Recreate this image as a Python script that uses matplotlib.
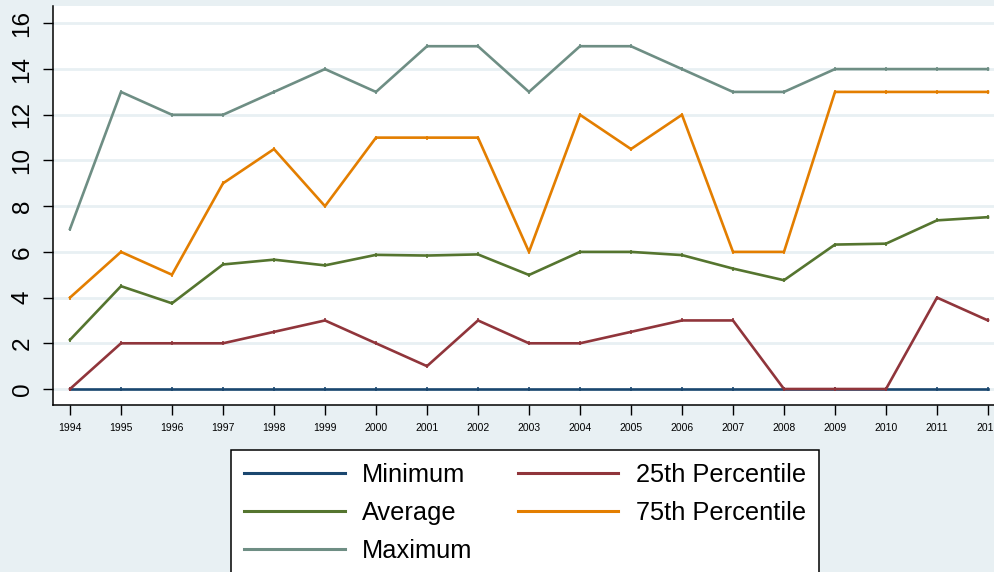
import matplotlib.pyplot as plt
from matplotlib.lines import Line2D

plt.rcParams['font.family'] = ['Liberation Sans', 'DejaVu Sans']

years = [1994, 1995, 1996, 1997, 1998, 1999, 2000, 2001, 2002, 2003,
         2004, 2005, 2006, 2007, 2008, 2009, 2010, 2011, 2012]
minimum = [0, 0, 0, 0, 0, 0, 0, 0, 0, 0, 0, 0, 0, 0, 0, 0, 0, 0, 0]
p25 = [0, 2, 2, 2, 2.5, 3, 2, 1, 3, 2, 2, 2.5, 3, 3, 0, 0, 0, 4, 3]
average = [2.15, 4.5, 3.75, 5.45, 5.66, 5.41, 5.87, 5.84, 5.89, 4.99,
           6.0, 6.0, 5.86, 5.27, 4.76, 6.32, 6.36, 7.38, 7.52]
p75 = [4, 6, 5, 9, 10.5, 8, 11, 11, 11, 6, 12, 10.5, 12, 6, 6, 13, 13, 13, 13]
maximum = [7, 13, 12, 12, 13, 14, 13, 15, 15, 13, 15, 15, 14, 13, 13, 14, 14, 14, 14]

bg = '#e8f0f3'
series = [
    ('Minimum', minimum, '#1a476f'),
    ('25th Percentile', p25, '#90353b'),
    ('Average', average, '#55752f'),
    ('75th Percentile', p75, '#e37e00'),
    ('Maximum', maximum, '#6e8e84'),
]

fig = plt.figure(figsize=(9.94, 5.72), dpi=100, facecolor=bg)
ax = fig.add_axes([53 / 994, 1 - 405 / 572, 1 - 53 / 994, 399 / 572])
ax.set_facecolor('white')

handles = {}
for name, vals, col in series:
    ax.plot(years, vals, color=col, lw=1.9, marker='|', ms=3, mew=1.2)
    handles[name] = Line2D([], [], color=col, lw=2.2)

ax.set_xlim(1993.667, 2012.118)
ax.set_ylim(-0.70, 16.76)
ax.set_yticks([0, 2, 4, 6, 8, 10, 12, 14, 16])
ax.set_xticks(years)
ax.grid(axis='y', color=bg, lw=2)
ax.set_axisbelow(True)

for s in ['top', 'right']:
    ax.spines[s].set_visible(False)
for s in ['left', 'bottom']:
    ax.spines[s].set_color('black')
    ax.spines[s].set_linewidth(1.1)

ax.tick_params(axis='y', labelsize=17.5, length=7, width=1, pad=7, labelrotation=90)
for lab in ax.get_yticklabels():
    lab.set_va('center')
ax.tick_params(axis='x', labelsize=7.5, length=7, width=1, pad=6)

order = ['Minimum', 'Average', 'Maximum', '25th Percentile', '75th Percentile']
leg = fig.legend([handles[k] for k in order], order, ncol=2,
                 loc='upper left', bbox_to_anchor=(231 / 994, 1 - 450 / 572),
                 fontsize=18.3, frameon=True, fancybox=False, handlelength=3.95,
                 handletextpad=0.68, columnspacing=1.8, labelspacing=0.55,
                 borderpad=0.52, borderaxespad=0)
leg.get_frame().set_edgecolor('black')
leg.get_frame().set_linewidth(1.1)
leg.get_frame().set_alpha(1)

fig.savefig('out.png', dpi=100, facecolor=bg)
